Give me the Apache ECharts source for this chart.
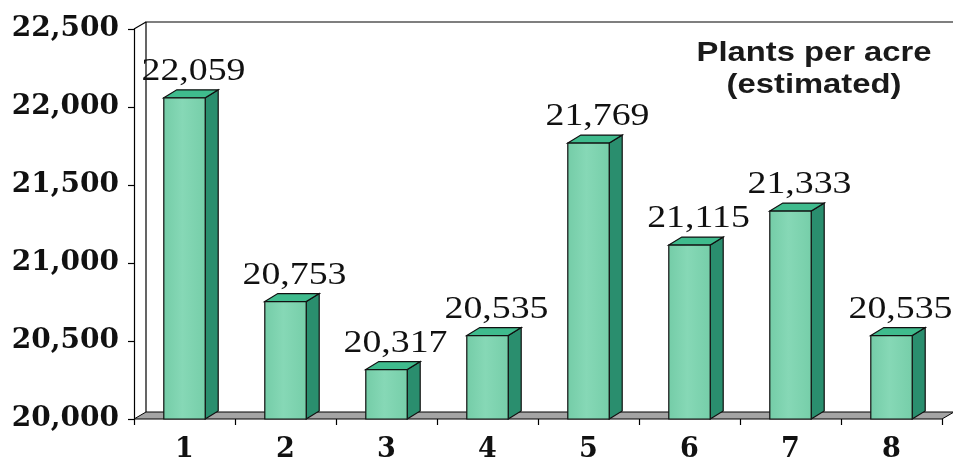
<!DOCTYPE html>
<html>
<head>
<meta charset="utf-8">
<script src="https://cdn.jsdelivr.net/npm/echarts@6/dist/echarts.min.js"></script>
<style>
html,body{margin:0;padding:0;background:#fff;}
#chart{width:953px;height:459px;}
</style>
</head>
<body>
<div id="chart"></div>
<script>
// ---- data ----
var categories = ['1','2','3','4','5','6','7','8'];
var plantsPerAcre = [22059, 20753, 20317, 20535, 21769, 21115, 21333, 20535];
var yTicks = [20000, 20500, 21000, 21500, 22000, 22500];
var titleLines = ['Plants per acre', '(estimated)'];

// ---- style ----
var GRID = {left: 134, right: 11, top: 29, bottom: 40, containLabel: false, outerBoundsMode: 'none'};
var FLOOR_DX = 12, FLOOR_DY = 7;
var BAR_DX = 13, BAR_DY = 8;
var BAR_RATIO = 0.41;
var TOP = '#3fbb8d', SIDE = '#2a8e6e';

function fmt(v){ return v.toString().replace(/\B(?=(\d{3})+(?!\d))/g, ','); }

var chart = echarts.init(document.getElementById('chart'), null, {renderer: 'canvas'});

function renderFrame(params, api){
  var cs = params.coordSys;
  var x0 = cs.x, x1 = cs.x + cs.width, yT = cs.y, yB = cs.y + cs.height;
  var st = {stroke: '#000', lineWidth: 1.2, fill: null};
  return {type: 'group', children: [
    {type: 'polygon', shape: {points: [[x0, yB], [x1, yB], [x1 + FLOOR_DX, yB - FLOOR_DY], [x0 + FLOOR_DX, yB - FLOOR_DY]]},
     style: {fill: '#a4a4a4', stroke: '#000', lineWidth: 1}},
    {type: 'polyline', shape: {points: [[x0 + FLOOR_DX, yB - FLOOR_DY], [x0 + FLOOR_DX, yT - FLOOR_DY], [x1 + FLOOR_DX, yT - FLOOR_DY], [x1 + FLOOR_DX, yB - FLOOR_DY]]}, style: st},
    {type: 'line', shape: {x1: x0, y1: yT, x2: x0 + FLOOR_DX, y2: yT - FLOOR_DY}, style: {stroke: '#000', lineWidth: 1.2}}
  ]};
}

function renderBar(params, api){
  var idx = api.value(0);
  var val = api.value(1);
  var top = api.coord([idx, val]);
  var base = api.coord([idx, yTicks[0]]);
  var w = api.size([1, 0])[0] * BAR_RATIO;
  var l = top[0] - w / 2, r = top[0] + w / 2;
  var yt = top[1], yb = base[1];
  var line = {stroke: '#111', lineWidth: 1.2};
  return {type: 'group', children: [
    {type: 'polygon', shape: {points: [[r, yb], [r + BAR_DX, yb - BAR_DY], [r + BAR_DX, yt - BAR_DY], [r, yt]]},
     style: Object.assign({fill: SIDE}, line)},
    {type: 'polygon', shape: {points: [[l, yt], [l + BAR_DX, yt - BAR_DY], [r + BAR_DX, yt - BAR_DY], [r, yt]]},
     style: Object.assign({fill: TOP}, line)},
    {type: 'rect', shape: {x: l, y: yt, width: w, height: yb - yt},
     style: Object.assign({fill: new echarts.graphic.LinearGradient(0, 0, 1, 0, [
       {offset: 0, color: '#74cca7'}, {offset: 0.45, color: '#86d8b6'}, {offset: 1, color: '#76cea9'}])}, line)},
    {type: 'text', x: top[0] + 9, y: yt - 26, scaleX: 1.22,
     style: {text: fmt(val), font: '31px "Liberation Serif", serif', fill: '#111', align: 'center', verticalAlign: 'middle'}}
  ]};
}

var option = {
  backgroundColor: '#fff',
  animation: false,
  grid: GRID,
  xAxis: {
    type: 'category', data: categories,
    axisLine: {show: false},
    axisTick: {show: true, length: 6, lineStyle: {color: '#000', width: 1.2}},
    axisLabel: {margin: 17, color: '#111', fontFamily: '"DejaVu Serif", serif', fontWeight: 'bold', fontSize: 27}
  },
  yAxis: {
    type: 'value', min: yTicks[0], max: yTicks[yTicks.length - 1], interval: 500,
    axisLine: {show: true, lineStyle: {color: '#000', width: 1.2}},
    axisTick: {show: true, length: 6, lineStyle: {color: '#000', width: 1.2}},
    splitLine: {show: false},
    axisLabel: {margin: 15, color: '#111', fontFamily: '"DejaVu Serif", serif', fontWeight: 'bold', fontSize: 28,
      formatter: function(v){ return fmt(v); }}
  },
  graphic: [
    {type: 'text', x: 814, y: 53, scaleX: 1.17, z: 10,
     style: {text: titleLines[0], font: 'bold 28px "Liberation Sans", Arial, sans-serif', fill: '#1a1a1a', align: 'center', verticalAlign: 'middle'}},
    {type: 'text', x: 814, y: 85, scaleX: 1.17, z: 10,
     style: {text: titleLines[1], font: 'bold 28px "Liberation Sans", Arial, sans-serif', fill: '#1a1a1a', align: 'center', verticalAlign: 'middle'}}
  ],
  series: [
    {type: 'custom', z: 1, silent: true, data: [[0]], renderItem: renderFrame},
    {type: 'custom', z: 3, data: plantsPerAcre.map(function(v, i){ return [i, v]; }),
     encode: {x: 0, y: 1}, renderItem: renderBar}
  ]
};
chart.setOption(option);
</script>
</body>
</html>
